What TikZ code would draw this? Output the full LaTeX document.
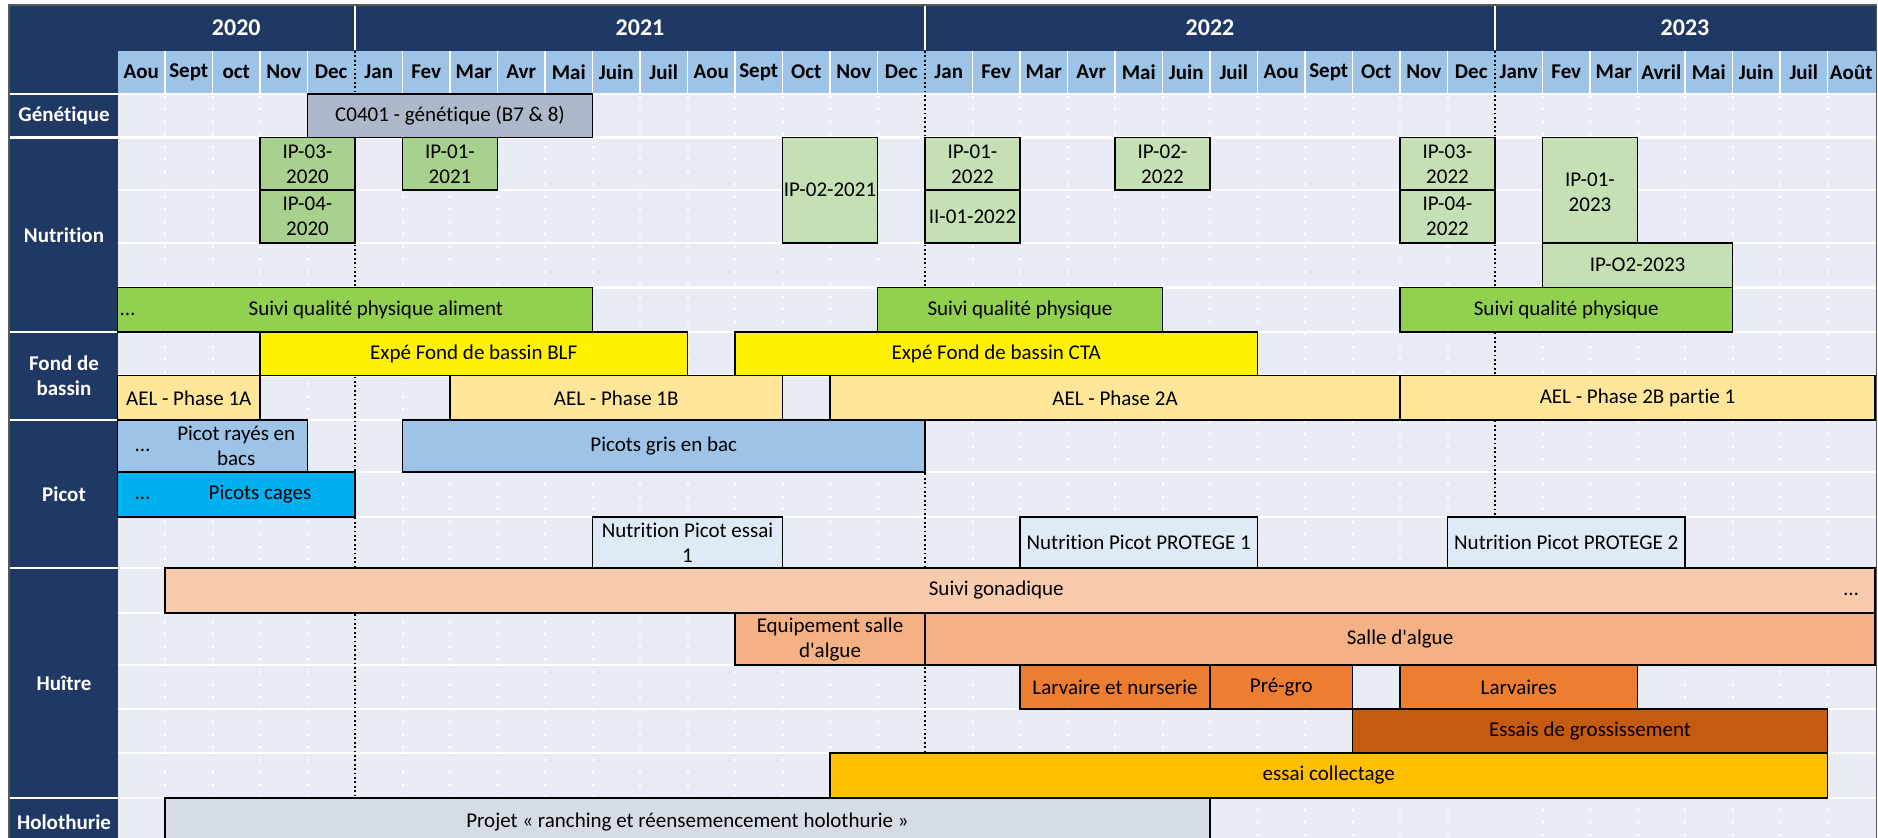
\documentclass[tikz,border=0pt]{standalone}
\usepackage{fontspec}
\setmainfont{Carlito}[Ligatures={TeX,NoCommon}]
\usepackage{tikz}
\usetikzlibrary{calc}

\definecolor{headnavy}{HTML}{203864}
\definecolor{monthblue}{HTML}{9DC3E6}
\definecolor{gridbg}{HTML}{E9ECF5}
\definecolor{framegrey}{HTML}{595959}
\definecolor{genegrey}{HTML}{ADB9CA}
\definecolor{ipgreen}{HTML}{A9D18E}
\definecolor{iplight}{HTML}{C5E0B4}
\definecolor{suivigreen}{HTML}{92D050}
\definecolor{aelyellow}{HTML}{FFE699}
\definecolor{picotblue}{HTML}{9DC3E6}
\definecolor{cageblue}{HTML}{00B0F0}
\definecolor{nutpale}{HTML}{DEEBF7}
\definecolor{gonapeach}{HTML}{F8CBAD}
\definecolor{algueorange}{HTML}{F4B183}
\definecolor{larvorange}{HTML}{ED7D31}
\definecolor{grossbrown}{HTML}{C55A11}
\definecolor{collgold}{HTML}{FFC000}
\definecolor{holoslate}{HTML}{D6DCE4}

\begin{document}
\begin{tikzpicture}[x=0.5pt, y=-0.5pt,
  txt/.style={font=\fontsize{10.5}{12.5}\selectfont, inner sep=0pt, align=center, text=black},
  bar/.style={draw=black, line width=0.8pt},
  cat/.style={font=\fontsize{10.5}{12.5}\selectfont\bfseries, text=white, align=center, inner sep=0pt},
  monthlbl/.style={font=\fontsize{10.5}{12.5}\selectfont\bfseries, inner sep=0pt},
  yearlbl/.style={font=\fontsize{12}{14}\selectfont\bfseries, text=white, inner sep=0pt},
  rowsep/.style={white, line width=1.2pt},
  yearsep/.style={black, line width=0.9pt, dash pattern=on 0.9pt off 1.3pt},
  monthsep/.style={white, line width=1pt, dash pattern=on 1pt off 5.25pt}]

\useasboundingbox (0,0) rectangle (1878,838);
\clip (0,0) rectangle (1878,838);

% Background, category column and header bands
\fill[white] (0,0) rectangle (1878,838);
\fill[headnavy] (10,6) rectangle (117.5,850);
\fill[headnavy] (117.5,6) rectangle (1876,51);
\fill[monthblue] (117.5,51) rectangle (1876,93);
\fill[gridbg] (117.5,93) rectangle (1876,850);

% Month grid (one unit = one month)
\begin{scope}[xshift=58.75pt, x=23.75pt]
  \def\monthcuts{1,2,3,4,6,7,8,9,10,11,12,13,14,15,16,18,19,20,21,22,23,24,25,26,27,28,30,31,32,33,34,35,36}
  \foreach \i in \monthcuts {
    \draw[monthsep] (\i,96) -- (\i,850);
    \draw[white, line width=0.75pt] (\i,51) -- (\i,93);
  }
\end{scope}

% Row separators
\draw[rowsep] (10,94) -- (1876,94);
\foreach \yy in {137.5,190,243,287.5,332,375.5,420,472,517,568,613,665,709,753,798}
  \draw[rowsep] (117.5,\yy) -- (1876,\yy);
\foreach \yy in {137.5,332,420,568,798}
  \draw[rowsep] (10,\yy) -- (117.5,\yy);

\begin{scope}[xshift=58.75pt, x=23.75pt]

  % Year boundaries
  \foreach \i in {5,17,29} {
    \draw[yearsep] (\i,51) -- (\i,798);
    \draw[white, line width=1.2pt] (\i,6) -- (\i,50);
  }

  % Years and months
  \node[yearlbl] (y2020) at (2.5,28) {2020};
  \node[yearlbl] (y2021) at (11,28) {2021};
  \node[yearlbl] (y2022) at (23,28) {2022};
  \node[yearlbl] (y2023) at (33,28) {2023};
  \foreach \m [count=\i from 0] in {Aou,Sept,oct,Nov,Dec,Jan,Fev,Mar,Avr,Mai,Juin,Juil,Aou,Sept,Oct,Nov,Dec,Jan,Fev,Mar,Avr,Mai,Juin,Juil,Aou,Sept,Oct,Nov,Dec,Janv,Fev,Mar,Avril,Mai,Juin,Juil,Août}
    \node[monthlbl] (m\i) at (\i+0.5,72) {\m};

  % Genetique
  \draw[bar, fill=genegrey] (4,94) rectangle (10,137.5);
  \node[txt] (c0401) at (7,116) {C0401 - génétique (B7 \& 8)};

  % Nutrition
  \draw[bar, fill=ipgreen] (3,137.5) rectangle (5,190);
  \node[txt] (ip0320) at (4,164) {IP-03-\\2020};
  \draw[bar, fill=ipgreen] (3,190) rectangle (5,243);
  \node[txt] (ip0420) at (4,216.5) {IP-04-\\2020};
  \draw[bar, fill=ipgreen] (6,137.5) rectangle (8,190);
  \node[txt] (ip0121) at (7,164) {IP-01-\\2021};
  \draw[bar, fill=iplight] (14,137.5) rectangle (16,243);
  \node[txt] (ip0221) at (15,190) {IP-02-2021};
  \draw[bar, fill=iplight] (17,137.5) rectangle (19,190);
  \node[txt] (ip0122) at (18,164) {IP-01-\\2022};
  \draw[bar, fill=iplight] (17,190) rectangle (19,243);
  \node[txt] (ii0122) at (18,216.5) {II-01-2022};
  \draw[bar, fill=iplight] (21,137.5) rectangle (23,190);
  \node[txt] (ip0222) at (22,164) {IP-02-\\2022};
  \draw[bar, fill=iplight] (27,137.5) rectangle (29,190);
  \node[txt] (ip0322) at (28,164) {IP-03-\\2022};
  \draw[bar, fill=iplight] (27,190) rectangle (29,243);
  \node[txt] (ip0422) at (28,216.5) {IP-04-\\2022};
  \draw[bar, fill=iplight] (30,137.5) rectangle (32,243);
  \node[txt] (ip0123) at (31,192) {IP-01-\\2023};
  \draw[bar, fill=iplight] (30,243) rectangle (34,287.5);
  \node[txt] (ip0223) at (32,265) {IP-O2-2023};
  \draw[bar, fill=suivigreen] (0,287.5) rectangle (10,332);
  \node[txt] (suivialim) at (5.44,310) {Suivi qualité physique aliment};
  \node[txt, anchor=base west] (suividots) at (0.05,316) {…};
  \draw[bar, fill=suivigreen] (16,287.5) rectangle (22,332);
  \node[txt] (suivi22) at (19,310) {Suivi qualité physique};
  \draw[bar, fill=suivigreen] (27,287.5) rectangle (34,332);
  \node[txt] (suivi23) at (30.5,310) {Suivi qualité physique};

  % Fond de bassin
  \draw[bar, fill=yellow] (3,332) rectangle (12,375.5);
  \node[txt] (blf) at (7.5,354) {Expé Fond de bassin BLF};
  \draw[bar, fill=yellow] (13,332) rectangle (24,375.5);
  \node[txt] (cta) at (18.5,354) {Expé Fond de bassin CTA};
  \draw[bar, fill=aelyellow] (0,375.5) rectangle (3,420);
  \node[txt] (ael1a) at (1.5,398) {AEL - Phase 1A};
  \draw[bar, fill=aelyellow] (7,375.5) rectangle (14,420);
  \node[txt] (ael1b) at (10.5,398) {AEL - Phase 1B};
  \draw[bar, fill=aelyellow] (15,375.5) rectangle (27,420);
  \node[txt] (ael2a) at (21,398) {AEL - Phase 2A};
  \draw[bar, fill=aelyellow] (27,375.5) rectangle (37,420);
  \node[txt] (ael2b) at (32,398) {AEL - Phase 2B partie 1};

  % Picot
  \draw[bar, fill=picotblue] (0,420) rectangle (4,472);
  \node[txt] (rayes) at (2.5,446) {Picot rayés en\\bacs};
  \node[txt, anchor=base west] (rayesdots) at (0.37,452) {…};
  \draw[bar, fill=picotblue] (6,420) rectangle (17,472);
  \node[txt] (gris) at (11.5,446) {Picots gris en bac};
  \draw[bar, fill=cageblue] (0,472) rectangle (5,517);
  \node[txt] (cages) at (3,494.5) {Picots cages};
  \node[txt, anchor=base west] (cagesdots) at (0.37,500) {…};
  \draw[bar, fill=nutpale] (10,517) rectangle (14,568);
  \node[txt] (essai1) at (12,543) {Nutrition Picot essai\\1};
  \draw[bar, fill=nutpale] (19,517) rectangle (24,568);
  \node[txt] (protege1) at (21.5,542.5) {Nutrition Picot PROTEGE 1};
  \draw[bar, fill=nutpale] (28,517) rectangle (33,568);
  \node[txt] (protege2) at (30.5,542.5) {Nutrition Picot PROTEGE 2};

  % Huitre
  \draw[bar, fill=gonapeach] (1,568) rectangle (37,613);
  \node[txt] (gona) at (18.5,590.5) {Suivi gonadique};
  \node[txt, anchor=base east] (gonadots) at (36.66,596) {…};
  \draw[bar, fill=algueorange] (13,613) rectangle (17,665);
  \node[txt] (equip) at (15,640) {Equipement salle\\d\textquotesingle algue};
  \draw[bar, fill=algueorange] (17,613) rectangle (37,665);
  \node[txt] (salle) at (27,639) {Salle d\textquotesingle algue};
  \draw[bar, fill=larvorange] (19,665) rectangle (23,709);
  \node[txt] (larvnurs) at (21,687) {Larvaire et nurserie};
  \draw[bar, fill=larvorange] (23,665) rectangle (26,709);
  \node[txt] (pregro) at (24.5,687) {Pré-gro};
  \draw[bar, fill=larvorange] (27,665) rectangle (32,709);
  \node[txt] (larvaires) at (29.5,687) {Larvaires};
  \draw[bar, fill=grossbrown] (26,709) rectangle (36,753);
  \node[txt] (gross) at (31,731) {Essais de grossissement};
  \draw[bar, fill=collgold] (15,753) rectangle (36,798);
  \node[txt] (collect) at (25.5,775.5) {essai collectage};

  % Holothurie
  \draw[bar, fill=holoslate] (1,798) rectangle (23,850);
  \node[txt] (ranching) at (12,822) {Projet « ranching et réensemencement holothurie »};
\end{scope}

% Categories
\node[cat] (catgen) at (64,116) {Génétique};
\node[cat] (catnut) at (64,235) {Nutrition};
\node[cat] (catfond) at (64,376) {Fond de\\bassin};
\node[cat] (catpicot) at (64,494) {Picot};
\node[cat] (cathuitre) at (64,683) {Huître};
\node[cat] (catholo) at (64,822) {Holothurie};

% Outer frame
\draw[framegrey, line width=0.8pt] (9,5) rectangle (1876.5,850);

\end{tikzpicture}
\end{document}
